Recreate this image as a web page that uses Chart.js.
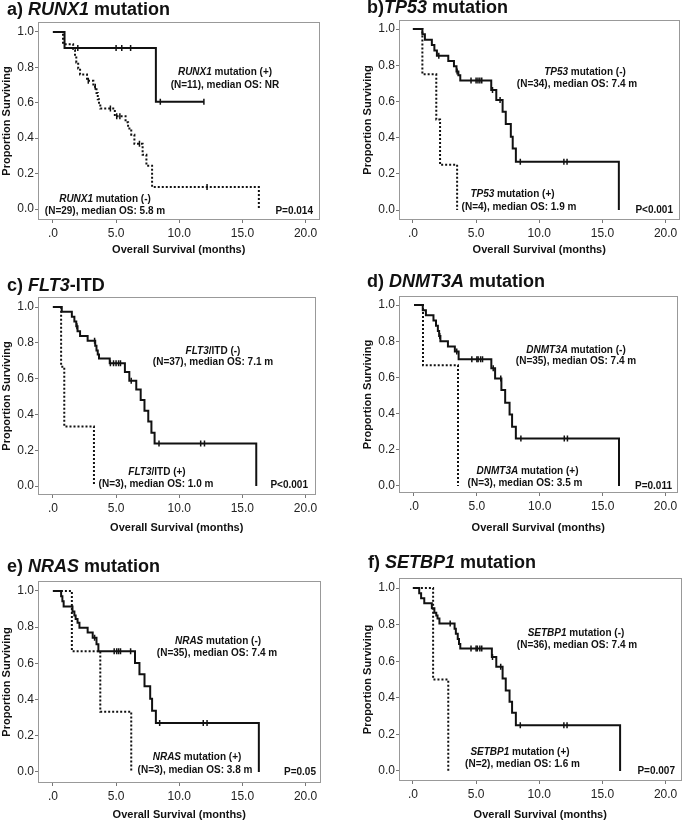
<!DOCTYPE html>
<html>
<head>
<meta charset="utf-8">
<script src="https://cdn.jsdelivr.net/npm/chart.js@4"></script>
<style>
body { margin: 0; background: #fff; width: 685px; height: 821px; position: relative; overflow: hidden;
       font-family: Arial, "Liberation Sans", sans-serif; color: #111; }
canvas { position: absolute; }
.ttl { position: absolute; font-weight: bold; font-size: 18px; line-height: 18px; white-space: nowrap; z-index: 2; }
.note { position: absolute; font-weight: bold; font-size: 10px; line-height: 12px; white-space: nowrap;
        transform: translate(-50%, -50%); z-index: 2; }
.note.right { transform: translate(-100%, -50%); }
</style>
</head>
<body>
<script>
// tick labels shared by all panels
const xTickValues = [0, 5, 10, 15, 20];
const xTickLabels = ['.0', '5.0', '10.0', '15.0', '20.0'];
const yTickValues = [0, 0.2, 0.4, 0.6, 0.8, 1.0];
const yTickLabels = ['0.0', '0.2', '0.4', '0.6', '0.8', '1.0'];

// a) RUNX1
const runx1PosTime = [0, 0.92, 8.15, 11.95];
const runx1PosSurv = [1, 0.909, 0.606, 0.606];
const runx1PosCensor = [1.97, 5.0, 5.45, 6.15, 8.5, 11.95];
const runx1NegTime = [0, 0.8, 1.6, 1.75, 1.85, 2.0, 2.15, 2.7, 3.2, 3.45, 3.55, 3.65, 3.75, 4.9, 5.75, 5.95, 6.2, 6.45, 7.1, 7.4, 7.85, 16.3];
const runx1NegSurv = [1, 0.931, 0.897, 0.862, 0.828, 0.793, 0.759, 0.724, 0.69, 0.655, 0.62, 0.59, 0.567, 0.524, 0.49, 0.455, 0.42, 0.368, 0.306, 0.245, 0.124, 0];
const runx1NegCensor = [2.8, 3.35, 4.55, 5.05, 5.3, 6.85, 12.2];

// b) TP53
const tp53PosTime = [0, 0.75, 1.85, 2.15, 3.5];
const tp53PosSurv = [1, 0.75, 0.5, 0.25, 0];
const tp53NegTime = [0, 0.75, 0.95, 1.5, 1.7, 1.9, 2.8, 3.25, 3.45, 3.6, 3.75, 6.2, 6.6, 7.1, 7.35, 7.75, 7.9, 8.15, 16.3];
const tp53NegSurv = [1, 0.971, 0.941, 0.912, 0.882, 0.853, 0.824, 0.794, 0.765, 0.745, 0.716, 0.663, 0.608, 0.543, 0.475, 0.405, 0.34, 0.267, 0];
const tp53NegCensor = [2.05, 3.5, 4.6, 5.0, 5.15, 5.3, 5.45, 6.3, 6.9, 8.5, 11.95, 12.2];

// c) FLT3-ITD
const flt3PosTime = [0, 0.65, 0.9, 3.25];
const flt3PosSurv = [1, 0.667, 0.333, 0];
const flt3NegTime = [0, 0.7, 1.5, 1.7, 1.85, 1.95, 2.15, 2.75, 3.35, 3.45, 3.55, 3.65, 4.5, 5.7, 6.05, 6.6, 6.95, 7.25, 7.55, 7.8, 8.05, 16.1];
const flt3NegSurv = [1, 0.973, 0.946, 0.919, 0.892, 0.865, 0.838, 0.811, 0.784, 0.757, 0.735, 0.713, 0.686, 0.637, 0.588, 0.539, 0.48, 0.42, 0.36, 0.298, 0.237, 0];
const flt3NegCensor = [1.9, 3.3, 4.55, 4.8, 5.0, 5.2, 5.35, 6.2, 8.4, 11.7, 12.0];

// d) DNMT3A
const dnmtPosTime = [0, 0.72, 3.5];
const dnmtPosSurv = [1, 0.667, 0];
const dnmtNegTime = [0, 0.7, 0.95, 1.55, 1.75, 1.9, 2.0, 2.1, 2.7, 3.25, 3.55, 6.15, 6.45, 6.95, 7.25, 7.6, 7.8, 8.1, 16.3];
const dnmtNegSurv = [1, 0.971, 0.943, 0.914, 0.886, 0.857, 0.829, 0.8, 0.771, 0.743, 0.7, 0.65, 0.594, 0.53, 0.46, 0.395, 0.327, 0.262, 0];
const dnmtNegCensor = [2.05, 3.4, 4.6, 5.0, 5.1, 5.3, 5.45, 6.3, 6.9, 8.5, 11.95, 12.2];

// e) NRAS
const nrasPosTime = [0, 1.5, 3.75, 6.2];
const nrasPosSurv = [1, 0.667, 0.333, 0];
const nrasNegTime = [0, 0.65, 0.75, 0.85, 1.55, 1.7, 1.8, 1.95, 2.1, 2.75, 3.15, 3.45, 3.6, 6.5, 6.85, 7.25, 7.7, 7.85, 8.15, 16.3];
const nrasNegSurv = [1, 0.971, 0.943, 0.914, 0.886, 0.865, 0.845, 0.825, 0.797, 0.77, 0.742, 0.705, 0.667, 0.602, 0.54, 0.473, 0.405, 0.338, 0.27, 0];
const nrasNegCensor = [3.3, 4.85, 5.05, 5.2, 5.35, 6.15, 8.45, 11.9, 12.2];

// f) SETBP1
const setbpPosTime = [0, 1.6, 2.8];
const setbpPosSurv = [1, 0.5, 0];
const setbpNegTime = [0, 0.5, 0.65, 0.9, 1.5, 1.7, 1.85, 1.95, 2.1, 3.3, 3.4, 3.55, 3.65, 3.75, 6.25, 6.6, 7.1, 7.35, 7.65, 7.85, 8.15, 16.4];
const setbpNegSurv = [1, 0.972, 0.944, 0.917, 0.889, 0.865, 0.85, 0.833, 0.806, 0.778, 0.75, 0.722, 0.694, 0.669, 0.623, 0.57, 0.505, 0.44, 0.378, 0.318, 0.25, 0];
const setbpNegCensor = [2.95, 4.6, 5.0, 5.1, 5.3, 5.45, 6.3, 6.95, 8.5, 11.95, 12.2];

const DOT = [2, 2];

// page layout of each panel: frame box [left, right, top, bottom] in px
const panels = [
  { title: 'a) <i>RUNX1</i> mutation', tx: 7, ty: 0,
    box: [38, 321, 22, 220], xr: [-1.18, 21.1], yr: [-0.062, 1.056], xTitleY: 250,
    curves: [
      { time: runx1NegTime, surv: runx1NegSurv, censor: runx1NegCensor, dash: DOT },
      { time: runx1PosTime, surv: runx1PosSurv, censor: runx1PosCensor, dash: [] }],
    notes: [
      [225, 72, '<i>RUNX1</i> mutation (+)'], [225, 84.5, '(N=11), median OS: NR'],
      [105, 198.5, '<i>RUNX1</i> mutation (-)'], [105, 210.5, '(N=29), median OS: 5.8 m'],
      [313, 211, 'P=0.014', true]] },
  { title: 'b)<i>TP53</i> mutation', tx: 367, ty: -2,
    box: [399, 681, 20, 220], xr: [-1.1, 21.1], yr: [-0.055, 1.05], xTitleY: 250,
    curves: [
      { time: tp53PosTime, surv: tp53PosSurv, censor: [], dash: DOT },
      { time: tp53NegTime, surv: tp53NegSurv, censor: tp53NegCensor, dash: [] }],
    notes: [
      [585, 72, '<i>TP53</i> mutation (-)'], [577, 84, '(N=34), median OS: 7.4 m'],
      [512.5, 194, '<i>TP53</i> mutation (+)'], [519, 207, '(N=4), median OS: 1.9 m'],
      [673, 210, 'P&lt;0.001', true]] },
  { title: 'c) <i>FLT3</i>-ITD', tx: 7, ty: 276,
    box: [38, 317, 297, 495], xr: [-1.18, 20.79], yr: [-0.05, 1.056], xTitleY: 528,
    curves: [
      { time: flt3PosTime, surv: flt3PosSurv, censor: [], dash: DOT },
      { time: flt3NegTime, surv: flt3NegSurv, censor: flt3NegCensor, dash: [] }],
    notes: [
      [213, 350.5, '<i>FLT3</i>/ITD (-)'], [213, 362, '(N=37), median OS: 7.1 m'],
      [157, 472, '<i>FLT3</i>/ITD (+)'], [156, 483.5, '(N=3), median OS: 1.0 m'],
      [308, 485, 'P&lt;0.001', true]] },
  { title: 'd) <i>DNMT3A</i> mutation', tx: 367, ty: 272,
    box: [399, 679, 296, 493], xr: [-1.19, 20.95], yr: [-0.039, 1.05], xTitleY: 528.5,
    curves: [
      { time: dnmtPosTime, surv: dnmtPosSurv, censor: [], dash: DOT },
      { time: dnmtNegTime, surv: dnmtNegSurv, censor: dnmtNegCensor, dash: [] }],
    notes: [
      [576, 350, '<i>DNMT3A</i> mutation (-)'], [576, 361, '(N=35), median OS: 7.4 m'],
      [527.5, 471, '<i>DNMT3A</i> mutation (+)'], [525, 483, '(N=3), median OS: 3.5 m'],
      [672, 486, 'P=0.011', true]] },
  { title: 'e) <i>NRAS</i> mutation', tx: 7, ty: 557,
    box: [38, 322, 581, 783], xr: [-1.18, 21.18], yr: [-0.061, 1.055], xTitleY: 815.7,
    curves: [
      { time: nrasPosTime, surv: nrasPosSurv, censor: [], dash: DOT },
      { time: nrasNegTime, surv: nrasNegSurv, censor: nrasNegCensor, dash: [] }],
    notes: [
      [218, 641, '<i>NRAS</i> mutation (-)'], [217, 653, '(N=35), median OS: 7.4 m'],
      [197, 757, '<i>NRAS</i> mutation (+)'], [195, 770, '(N=3), median OS: 3.8 m'],
      [316, 772, 'P=0.05', true]] },
  { title: 'f) <i>SETBP1</i> mutation', tx: 368, ty: 553,
    box: [399, 683, 578, 781], xr: [-1.1, 21.26], yr: [-0.055, 1.055], xTitleY: 815.7,
    curves: [
      { time: setbpPosTime, surv: setbpPosSurv, censor: [], dash: DOT },
      { time: setbpNegTime, surv: setbpNegSurv, censor: setbpNegCensor, dash: [] }],
    notes: [
      [576, 633, '<i>SETBP1</i> mutation (-)'], [577, 645, '(N=36), median OS: 7.4 m'],
      [520, 752, '<i>SETBP1</i> mutation (+)'], [522.5, 763.5, '(N=2), median OS: 1.6 m'],
      [675, 771, 'P=0.007', true]] }
];

// survival value of a step curve at time t (for censor ticks)
function survAt(time, surv, t) {
  let v = surv[0];
  for (let i = 0; i < time.length; i++) {
    if (time[i] <= t) v = surv[i];
  }
  return v;
}

const framePlugin = {
  id: 'frame',
  beforeDatasetsDraw(chart) {
    const a = chart.chartArea;
    const ctx = chart.ctx;
    ctx.save();
    ctx.strokeStyle = '#999';
    ctx.lineWidth = 1;
    ctx.strokeRect(Math.round(a.left) + 0.5, Math.round(a.top) + 0.5,
                   Math.round(a.right - a.left) - 1, Math.round(a.bottom - a.top) - 1);
    ctx.restore();
  }
};

const FONT = 'Arial, "Liberation Sans", sans-serif';

function makePanel(p) {
  const [L, R, T, B] = p.box;
  const left = L - 38, top = T - 10;
  const width = R + 4 - left;
  const height = Math.round(p.xTitleY + 6.6 - top);
  const xAxisH = height - 10 - (B - T);

  const cv = document.createElement('canvas');
  cv.width = width;
  cv.height = height;
  cv.style.left = left + 'px';
  cv.style.top = top + 'px';
  document.body.appendChild(cv);

  const t = document.createElement('div');
  t.className = 'ttl';
  t.style.left = p.tx + 'px';
  t.style.top = p.ty + 'px';
  t.innerHTML = p.title;
  document.body.appendChild(t);

  p.notes.forEach(n => {
    const d = document.createElement('div');
    d.className = n[3] ? 'note right' : 'note';
    d.style.left = n[0] + 'px';
    d.style.top = n[1] + 'px';
    d.innerHTML = n[2];
    document.body.appendChild(d);
  });

  const datasets = [];
  p.curves.forEach(c => {
    datasets.push({
      type: 'line',
      data: c.time.map((x, i) => ({ x: x, y: c.surv[i] })),
      stepped: true,
      borderColor: '#111',
      borderWidth: 2,
      borderDash: c.dash,
      pointRadius: 0,
      fill: false
    });
    if (c.censor.length) {
      datasets.push({
        type: 'scatter',
        data: c.censor.map(x => ({ x: x, y: survAt(c.time, c.surv, x) })),
        pointStyle: 'line',
        rotation: 90,
        pointRadius: 3,
        borderColor: '#111',
        borderWidth: 1.5
      });
    }
  });

  new Chart(cv, {
    type: 'line',
    data: { datasets: datasets },
    options: {
      responsive: false,
      animation: false,
      layout: { padding: { left: 0, top: 10, right: 4, bottom: 0 } },
      plugins: { legend: { display: false }, tooltip: { enabled: false } },
      scales: {
        x: {
          type: 'linear', min: p.xr[0], max: p.xr[1],
          afterBuildTicks: s => { s.ticks = xTickValues.map(v => ({ value: v })); },
          afterFit: s => { s.height = xAxisH; },
          ticks: { callback: (v, i) => xTickLabels[i], color: '#222', padding: 3, maxRotation: 0,
                   font: { family: FONT, size: 12 } },
          grid: { drawOnChartArea: false, tickLength: 3, color: '#777' },
          border: { display: false },
          title: { display: true, text: 'Overall Survival (months)', color: '#111', padding: 0,
                   font: { family: FONT, size: 11, weight: 'bold' } }
        },
        y: {
          type: 'linear', min: p.yr[0], max: p.yr[1],
          afterBuildTicks: s => { s.ticks = yTickValues.map(v => ({ value: v })); },
          afterFit: s => { s.width = 38; },
          ticks: { callback: (v, i) => yTickLabels[i], color: '#222', padding: 1,
                   font: { family: FONT, size: 12 } },
          grid: { drawOnChartArea: false, tickLength: 3, color: '#777' },
          border: { display: false },
          title: { display: true, text: 'Proportion Surviving', color: '#111', padding: 0,
                   font: { family: FONT, size: 11, weight: 'bold' } }
        }
      }
    },
    plugins: [framePlugin]
  });
}

panels.forEach(makePanel);
</script>
</body>
</html>
